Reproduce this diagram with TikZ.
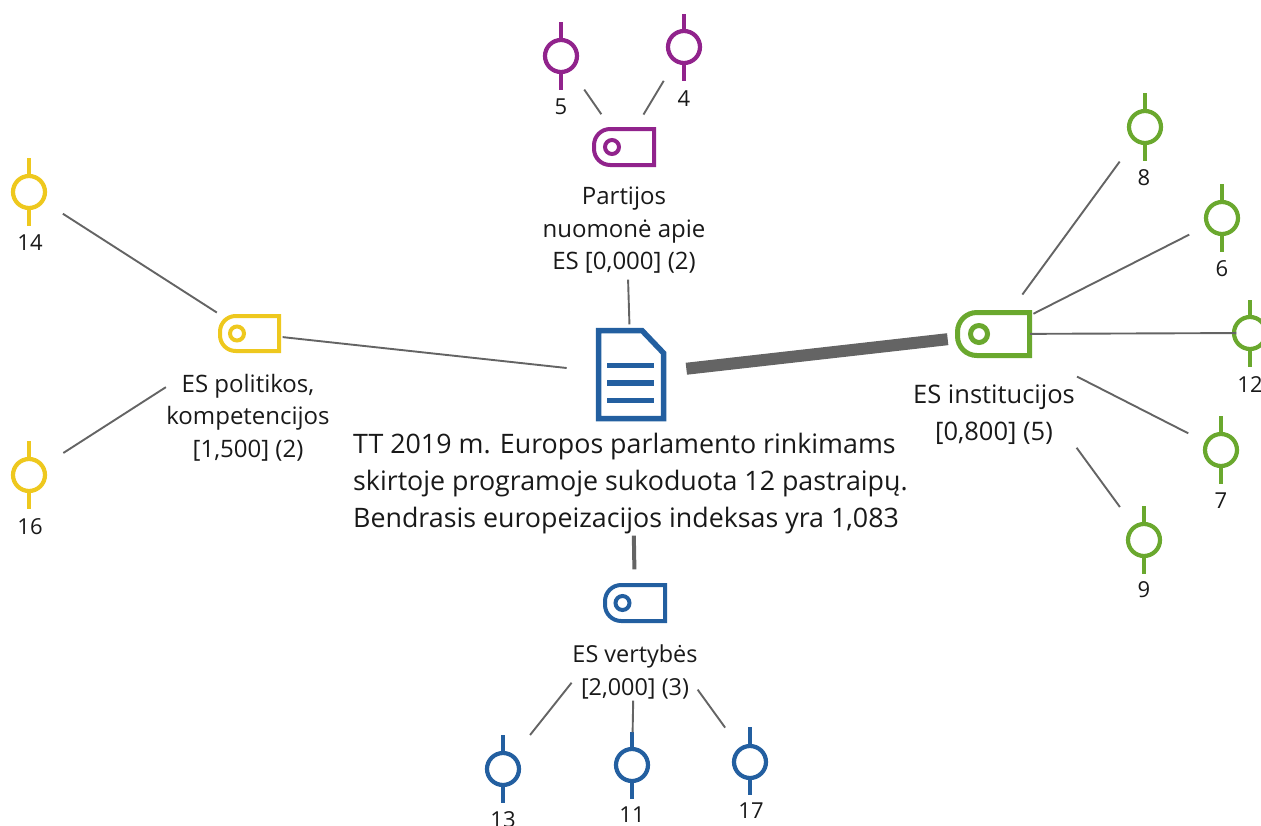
\documentclass[tikz,border=0pt]{standalone}
\usepackage{fontspec}
\setmainfont{Open Sans}
\definecolor{cpurple}{RGB}{145,35,140}
\definecolor{cyellow}{RGB}{238,200,30}
\definecolor{cgreen}{RGB}{106,168,46}
\definecolor{cblue}{RGB}{35,95,160}
\definecolor{clink}{RGB}{100,100,100}
\tikzset{
  anchorbox/.style={inner sep=0pt,minimum size=1pt,draw=none},
  lbl/.style={inner sep=0pt,align=center,text=black!90,font=\fontsize{24}{32.5}\selectfont},
  num/.style={inner sep=0pt,text=black!90,font=\fontsize{22}{25}\selectfont},
  link/.style={draw=clink,line width=1.9pt},
  heavy/.style={draw=clink,line width=12pt},
}
% tag icon: name, left, top, right, bottom, colour, hole x, hole r, stroke
\newcommand{\tagicon}[9]{%
  \pgfmathsetmacro{\tagr}{(#5-#3)*0.45}%
  \pgfmathsetmacro{\tagk}{(#5-#3)*0.2}%
  \node[anchorbox] (#1) at ({(#2+#4)/2},{(#3+#5)/2}) {};
  \draw[#6,line width=#9pt,line join=miter]
    (#4,#3) -- ({#2+\tagr},#3) .. controls ({#2+\tagk},#3) and (#2,{#3+\tagk}) .. (#2,{#3+\tagr})
    -- (#2,{#5-\tagr}) .. controls (#2,{#5-\tagk}) and ({#2+\tagk},#5) .. ({#2+\tagr},#5) -- (#4,#5) -- cycle;
  \draw[#6,line width=#9pt] (#7,{(#3+#5)/2}) circle[radius=#8];
}
% code icon: name, x, y, colour, top stem, bottom stem
\newcommand{\codeicon}[6]{%
  \node[anchorbox] (#1) at (#2,#3) {};
  \draw[#4,line width=4.2pt] (#2,#3) circle[radius=16];
  \draw[#4,line width=4.5pt] (#2,#5) -- (#2,{#3-16}) (#2,{#3+16}) -- (#2,#6);
}
\begin{document}
\begin{tikzpicture}[x=1pt,y=-1pt]
\useasboundingbox (0,0) rectangle (1261,825);
\clip (0,0) rectangle (1261,825);

% document
\node[anchorbox] (doc) at (631,375) {};
\draw[cblue,line width=5.5pt,line join=miter]
  (598.5,330.5) -- (642,330.5) -- (663.5,353) -- (663.5,418.5) -- (598.5,418.5) -- cycle;
\draw[cblue,line width=5.2pt] (607,365.5) -- (654,365.5) (607,383) -- (654,383) (607,400.5) -- (654,400.5);

% tags
\tagicon{tP}{594}{129}{654}{165}{cpurple}{612}{7}{4}
\tagicon{tY}{220}{316}{279}{351}{cyellow}{237}{7}{4}
\tagicon{tG}{957.5}{312.5}{1029.5}{355.5}{cgreen}{979}{8.5}{5}
\tagicon{tB}{605}{585}{665}{621}{cblue}{622.5}{7}{4}

% codes
\codeicon{c5}{561}{56}{cpurple}{22}{90}
\codeicon{c4}{684}{47}{cpurple}{14}{81}
\codeicon{c8}{1145}{127}{cgreen}{93}{161}
\codeicon{c6}{1222}{218}{cgreen}{184}{252}
\codeicon{c12}{1250}{333}{cgreen}{300}{367}
\codeicon{c7}{1221}{450}{cgreen}{416}{484}
\codeicon{c9}{1144}{540}{cgreen}{506}{574}
\codeicon{c14}{29}{192}{cyellow}{158}{226}
\codeicon{c16}{29}{475}{cyellow}{441}{509}
\codeicon{c13}{503}{769}{cblue}{735}{803}
\codeicon{c11}{632}{765}{cblue}{732}{799}
\codeicon{c17}{750}{762}{cblue}{727}{795}

% connectors
\draw[link,shorten <=40pt,shorten >=39pt] (c5) -- (tP);
\draw[link,shorten <=38.6pt,shorten >=37pt] (c4) -- (tP);
\draw[link,shorten <=132pt,shorten >=50pt] (tP) -- (doc);
\draw[link,shorten <=32.6pt,shorten >=64pt] (tY) -- (doc);
\draw[link,shorten <=39.4pt,shorten >=38pt] (c14) -- (tY);
\draw[link,shorten <=40pt,shorten >=98.5pt] (c16) -- (tY);
\draw[heavy,shorten <=55pt,shorten >=45.4pt] (doc) -- (tG);
\draw[link,line width=4pt,shorten <=160pt,shorten >=33pt] (doc) -- (tB);
\draw[link,shorten <=101pt,shorten >=42.6pt] (tB) -- (c13);
\draw[link,shorten <=97pt,shorten >=32pt] (tB) -- (c11);
\draw[link,shorten <=106pt,shorten >=41.6pt] (tB) -- (c17);
\draw[link,shorten <=42pt,shorten >=48pt] (c8) -- (tG);
\draw[link,shorten <=36pt,shorten >=44pt] (c6) -- (tG);
\draw[link,shorten <=13pt,shorten >=36pt] (c12) -- (tG);
\draw[link,shorten <=36pt,shorten >=93pt] (c7) -- (tG);
\draw[link,shorten <=40pt,shorten >=140pt] (c9) -- (tG);

% labels
\node[lbl] (lP) at (624,230.5) {Partijos\\nuomonė apie\\ES [0,000] (2)};
\node[lbl] (lY) at (248,417.5) {ES politikos,\\kompetencijos\\{}[1,500] (2)};
\node[lbl,font=\fontsize{25.5}{37}\selectfont] (lG) at (994,415) {ES institucijos\\{}[0,800] (5)};
\node[lbl,font=\fontsize{23.4}{33}\selectfont] (lB) at (635,671.5) {ES vertybės\\{}[2,000] (3)};
\node[lbl,align=left,anchor=west,font=\fontsize{26.8}{37}\selectfont] (main) at (353,484) {TT 2019 m. Europos parlamento rinkimams\\skirtoje programoje sukoduota 12 pastraipų.\\Bendrasis europeizacijos indeksas yra 1,083};

\node[num] (n5) at (561,107) {5};
\node[num] (n4) at (684,99) {4};
\node[num] (n8) at (1144,178) {8};
\node[num] (n6) at (1222,269) {6};
\node[num] (n12) at (1250,385) {12};
\node[num] (n7) at (1221,501) {7};
\node[num] (n9) at (1144,590) {9};
\node[num] (n14) at (30,243) {14};
\node[num] (n16) at (30,527) {16};
\node[num] (n13) at (503,820) {13};
\node[num] (n11) at (632,815) {11};
\node[num] (n17) at (751,811) {17};
\end{tikzpicture}
\end{document}
